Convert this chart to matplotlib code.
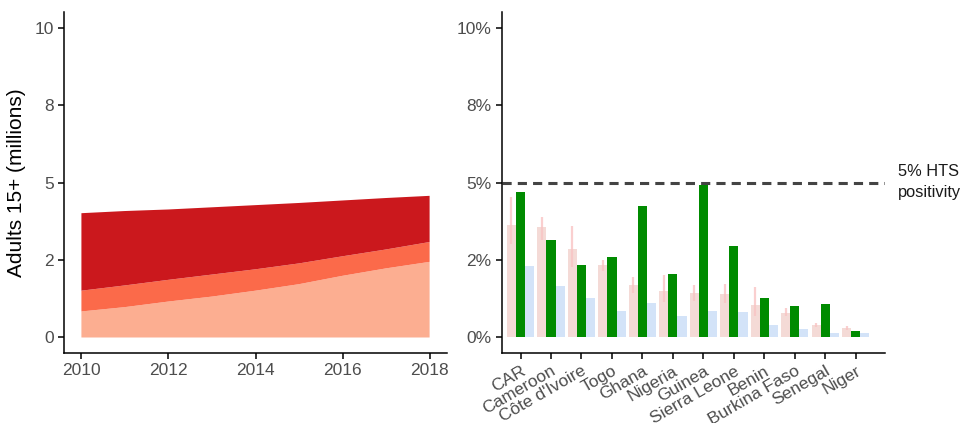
import numpy as np
import matplotlib
matplotlib.use("Agg")
import matplotlib.pyplot as plt

plt.rcParams['font.family'] = ['Liberation Sans', 'DejaVu Sans']

# left panel: adults 15+ (millions), stacked layers
years = [2010, 2011, 2012, 2013, 2014, 2015, 2016, 2017, 2018]
layer_low = [0.84, 0.98, 1.16, 1.32, 1.51, 1.72, 1.99, 2.23, 2.44]
layer_mid = [0.67, 0.70, 0.70, 0.71, 0.69, 0.67, 0.63, 0.61, 0.64]
layer_high = [2.50, 2.40, 2.27, 2.17, 2.07, 1.95, 1.80, 1.66, 1.49]

# right panel: positivity (%) by country
countries = ['CAR', 'Cameroon', "Côte d'Ivoire", 'Togo', 'Ghana', 'Nigeria',
             'Guinea', 'Sierra Leone', 'Benin', 'Burkina Faso', 'Senegal', 'Niger']
pink_vals = [3.64, 3.55, 2.84, 2.33, 1.69, 1.50, 1.43, 1.40, 1.05, 0.79, 0.41, 0.31]
pink_lo = [3.00, 3.13, 2.28, 2.15, 1.42, 1.13, 1.19, 1.11, 0.70, 0.69, 0.33, 0.24]
pink_hi = [4.53, 3.89, 3.60, 2.50, 1.95, 2.01, 1.70, 1.72, 1.62, 0.95, 0.48, 0.37]
green_vals = [4.70, 3.13, 2.33, 2.59, 4.25, 2.04, 4.93, 2.94, 1.27, 1.02, 1.08, 0.21]
blue_vals = [2.30, 1.66, 1.27, 0.86, 1.11, 0.70, 0.86, 0.82, 0.41, 0.28, 0.15, 0.15]

tick_col = '#4D4D4D'

fig = plt.figure(figsize=(9.64, 4.23), dpi=100)
ax1 = fig.add_axes([0.0664, 0.1655, 0.3973, 0.8061])
ax2 = fig.add_axes([0.5204, 0.1655, 0.3976, 0.8061])

for ax in (ax1, ax2):
    for s in ['top', 'right']:
        ax.spines[s].set_visible(False)
    for s in ['left', 'bottom']:
        ax.spines[s].set_linewidth(1.1)
    ax.tick_params(direction='out', length=4, width=1.1, labelsize=12.5, labelcolor=tick_col)
    ax.set_ylim(-0.5, 10.5)
    ax.set_yticks([0, 2.5, 5, 7.5, 10])

# stacked area
ax1.stackplot(years, layer_low, layer_mid, layer_high,
              colors=['#FCAE91', '#FB6A4A', '#CB181D'], linewidth=0)
ax1.set_xlim(2009.6, 2018.4)
ax1.set_xticks([2010, 2012, 2014, 2016, 2018])
ax1.set_yticklabels(['0', '2', '5', '8', '10'])
ax1.set_ylabel('Adults 15+ (millions)', fontsize=15, color='black', labelpad=6)

# dodged bars
x = np.arange(1, len(countries) + 1)
w = 0.3
ax2.bar(x - w, pink_vals, width=w, color='#F4DAD6', linewidth=0)
ax2.vlines(x - w, pink_lo, pink_hi, color='#F9C4C4', alpha=0.8, linewidth=1.6)
ax2.bar(x, green_vals, width=w, color='#008B00', linewidth=0)
ax2.bar(x + w, blue_vals, width=w, color='#D3E3F8', linewidth=0)
ax2.axhline(5, color='#444444', linewidth=2.2, linestyle=(0, (3, 2)))
ax2.set_xlim(0.38, 12.96)
ax2.set_xticks(x)
ax2.set_xticklabels(countries, rotation=30, ha='right', rotation_mode='anchor')
ax2.set_yticklabels(['0%', '2%', '5%', '8%', '10%'])

fig.text(898 / 964, (423 - 182) / 423, '5% HTS\npositivity', fontsize=11.8,
         va='center', ha='left', color='#1A1A1A', linespacing=1.55)

fig.savefig('out.png', dpi=100)
